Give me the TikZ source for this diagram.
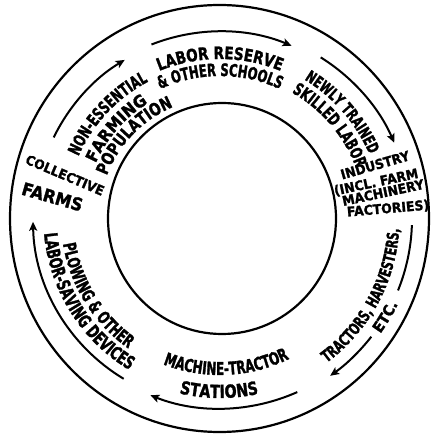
\documentclass[tikz,border=0pt]{standalone}
\usepackage{fontspec}
\usetikzlibrary{decorations.text,arrows.meta}
\newfontfamily\hn{DejaVu Sans Bold}[FakeStretch=0.67,FakeBold=1.5]
\newfontfamily\hm{DejaVu Sans Bold}[FakeStretch=0.79,FakeBold=1.5]
\newfontfamily\hw{DejaVu Sans Bold}[FakeStretch=0.93,FakeBold=1.5]
\newcommand\curvetxt[5]{\path[decorate,decoration={text along path,text align=center,text={|#1|#2}}] (#3:#5pt) arc[start angle=#3,end angle=#4,radius=#5pt];}
\newcommand\fs[1]{\fontsize{#1}{#1}\selectfont}
\tikzset{
  ring/.style={line width=2.2pt},
  flow/.style={line width=2pt,-{Stealth[length=9pt,width=8pt,inset=2pt]}},
  flowline/.style={line width=2pt},
  lbl/.style={inner sep=0pt,text depth=0pt},
}
\begin{document}
\begin{tikzpicture}[x=1pt,y=1pt]
\useasboundingbox (-220,-219.5) rectangle (210,218.5);
\fill[white] (-220,-219.5) rectangle (210,218.5);
% rings
\draw[ring] (-0.5,0) ellipse[x radius=209.5pt,y radius=213.5pt];
\draw[ring] (2,0) ellipse[x radius=114pt,y radius=115.5pt];
% arrows
\draw[flow] (111.5:187pt) arc[start angle=111.5,end angle=67.5,radius=187pt];
\draw[flow] (58:190pt) arc[start angle=58,end angle=23.5,radius=190pt];
\draw[flowline] (-2:192pt) arc[start angle=-2,end angle=-22,radius=192pt];
\draw[flow] (-38:192pt) arc[start angle=-38,end angle=-55,radius=192pt];
\draw[flow] (-66:190pt) arc[start angle=-66,end angle=-111.5,radius=190pt];
\draw[flow] (239:187pt) arc[start angle=239,end angle=181,radius=187pt];
\draw[flow] (154:185pt) arc[start angle=154,end angle=121,radius=185pt];
% curved labels
\curvetxt{\hm\fs{17.1}}{LABOR RESERVE}{135}{45}{159.5}
\curvetxt{\hn\fs{17.2}}{{\&} OTHER SCHOOLS}{135}{45}{142.5}
\curvetxt{\hn\fs{16.2}}{NEWLY TRAINED}{86}{-4}{162.5}
\curvetxt{\hn\fs{17.2}}{SKILLED LABOR}{85.3}{-4.7}{145}
\curvetxt{\hn\fs{16.2}}{TRACTORS, HARVESTERS,}{-88.4}{31.6}{179.5}
\curvetxt{\hw\fs{15}}{ETC.}{-60.7}{-0.7}{197.5}
\curvetxt{\hn\fs{17.8}}{MACHINE-TRACTOR}{-132.5}{-42.5}{156.5}
\curvetxt{\hm\fs{18}}{STATIONS}{-135.3}{-45.3}{179.5}
\curvetxt{\hn\fs{17.6}}{PLOWING {\&} OTHER}{167}{257}{159}
\curvetxt{\hn\fs{18.3}}{LABOR-SAVING DEVICES}{167}{257}{176.5}
\curvetxt{\hn\fs{17.2}}{NON-ESSENTIAL}{182}{92}{154.5}
\curvetxt{\hw\fs{16.6}}{FARMING}{184}{94}{136}
\curvetxt{\hm\fs{17.1}}{POPULATION}{181}{91}{121}
% straight labels
\node[lbl,rotate=16,font=\hw\fs{13.4}] (ind) at (155,53.5) {INDUSTRY};
\node[lbl,rotate=12,font=\hw\fs{13.4}] (incl) at (156,36.8) {(INCL. FARM};
\node[lbl,rotate=12,font=\hw\fs{13.4}] (mach) at (163,26) {MACHINERY};
\node[lbl,rotate=5,font=\hw\fs{13.4}] (fact) at (168,10.5) {FACTORIES)};
\node[lbl,rotate=-23,font=\hw\fs{13.3}] (coll) at (-155,43.5) {COLLECTIVE};
\node[lbl,rotate=-16,font=\hw\fs{17.6}] (farms) at (-167.5,21.8) {FARMS};
\end{tikzpicture}
\end{document}
